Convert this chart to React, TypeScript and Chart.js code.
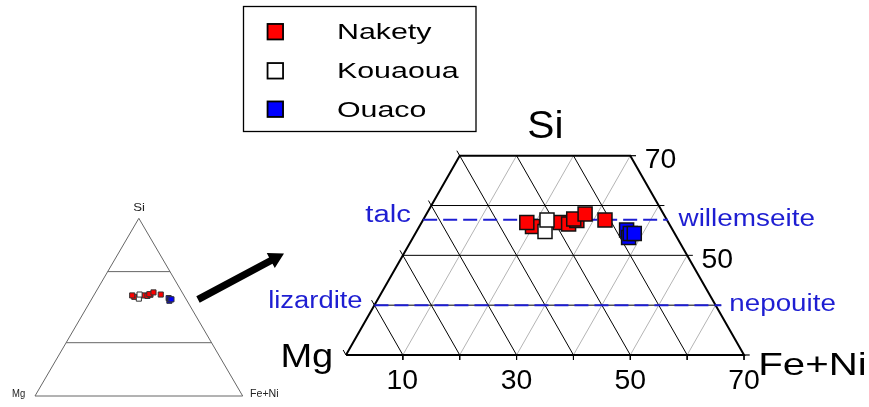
import React, { useEffect, useRef } from "react";
import { Chart, registerables } from "chart.js";

Chart.register(...registerables);

// ---------------- data (ternary %, Mg = 100 - Si - FeNi) ----------------
const seriesNames = ["Nakety", "Kouaoua", "Ouaco"];
const nakety_Si = [55.8, 56.6, 56.6, 56.3, 57.0, 57.3, 58.3, 57.1];
const nakety_FeNi = [19.9, 18.5, 24.4, 26.0, 27.1, 26.4, 27.9, 32.0];
const kouaoua_Si = [54.8, 57.1];
const kouaoua_FeNi = [22.6, 21.8];
const ouaco_Si = [55.1, 53.6, 54.4, 54.4];
const ouaco_FeNi = [36.8, 37.9, 37.8, 38.5];
const seriesColors = ["#ff0000", "#ffffff", "#0000ff"];

const axisLabels = ["Si", "Mg", "Fe+Ni"];
const bottomTicks = [10, 30, 50, 70]; // Fe+Ni along the Si = 30 base
const rightTicks = [50, 70]; // Si
const siRange = [30, 70]; // zoomed window
const gridSteps = [10, 20, 30, 40, 50, 60];
const siGrid = [40, 50, 60];
const mineralsLeft = ["talc", "lizardite"];
const mineralsRight = ["willemseite", "nepouite"];
const mineralSi = [400 / 7, 40];
const overviewSiLines = [30, 70];

// ternary (Si, FeNi) -> cartesian
const tp = (si: number, fe: number) => ({ x: fe + si / 2, y: si });

const FONT = '"Liberation Sans", Arial, sans-serif';
const BLUE = "#1e1ed2";

function seg(points: any[], color: string, width: number, order: number, dash: number[] = [], mini = false) {
  return {
    label: "",
    data: points,
    showLine: true,
    pointRadius: 0,
    pointHoverRadius: 0,
    borderColor: color,
    backgroundColor: color,
    borderWidth: width,
    borderDash: dash,
    fill: false,
    order,
    clip: false,
    xAxisID: mini ? "x2" : "x",
    yAxisID: mini ? "y2" : "y",
  };
}

function buildDatasets() {
  const ds: any[] = [];
  const [s0, s1] = siRange;
  const feMax = 100 - s0;
  // outline of zoom window
  ds.push(seg([tp(s0, 0), tp(s0, feMax), tp(s1, 100 - s1), tp(s1, 0), tp(s0, 0)], "#000", 2, 10));
  // horizontal Si lines with right ticks
  siGrid.forEach((s) => ds.push(seg([tp(s, 0), tp(s, 100 - s + 1)], "#000", 1, 11)));
  [s0, s1].forEach((s) => ds.push(seg([tp(s, 100 - s), tp(s, 100 - s + 1)], "#000", 1.2, 11)));
  // Mg-constant lines (black)
  gridSteps.forEach((m) => {
    const start = m >= 100 - s1 ? tp(100 - m, 0) : tp(s1, 100 - s1 - m);
    ds.push(seg([start, tp(s0, feMax - m)], "#000", 1, 11));
  });
  // left ticks (Mg lines extended outward)
  [30, 40, 50, 60, 70].forEach((m) => ds.push(seg([tp(100 - m, 0), tp(100 - m + 1, -1)], "#000", 1, 11)));
  // FeNi-constant lines (grey)
  gridSteps.forEach((f) => {
    const end = f <= 100 - s1 ? tp(s1, f) : tp(100 - f, f);
    ds.push(seg([tp(s0, f), end], "#b4b4b4", 1, 12));
  });
  // bottom ticks
  [...gridSteps, 70].forEach((f) => {
    const p = tp(s0, f);
    ds.push(seg([p, { x: p.x, y: p.y - 1 }], "#000", 1, 11));
  });
  // mineral reference lines (dashed blue)
  ds.push(seg([tp(mineralSi[0], 0), tp(mineralSi[0], 100 - mineralSi[0] + 0.2)], BLUE, 2, 5, [14, 6]));
  ds.push(seg([tp(mineralSi[1], 0), tp(mineralSi[1], 100 - mineralSi[1] + 1)], BLUE, 2, 5, [14, 6]));

  // overview triangle
  ds.push(seg([tp(0, 0), tp(0, 100), tp(100, 0), tp(0, 0)], "#666", 1, 10, [], true));
  overviewSiLines.forEach((s) => ds.push(seg([tp(s, 0), tp(s, 100 - s)], "#666", 1, 10, [], true)));

  const series = [
    { name: seriesNames[0], si: nakety_Si, fe: nakety_FeNi, color: seriesColors[0], order: 3 },
    { name: seriesNames[1], si: kouaoua_Si, fe: kouaoua_FeNi, color: seriesColors[1], order: 2 },
    { name: seriesNames[2], si: ouaco_Si, fe: ouaco_FeNi, color: seriesColors[2], order: 1 },
  ];
  series.forEach((s) => {
    const pts = s.si.map((v, i) => tp(v, s.fe[i]));
    ds.push({
      label: s.name,
      data: pts,
      showLine: false,
      pointStyle: "rect",
      pointRadius: 9.9,
      pointHoverRadius: 9.9,
      backgroundColor: s.color,
      borderColor: "#111",
      borderWidth: 1.5,
      order: s.order,
      clip: false,
      xAxisID: "x",
      yAxisID: "y",
    });
    ds.push({
      label: s.name + " (overview)",
      data: pts,
      showLine: false,
      pointStyle: "rect",
      pointRadius: 3.6,
      pointHoverRadius: 3.6,
      backgroundColor: s.color,
      borderColor: "#333",
      borderWidth: 1,
      order: s.order,
      clip: false,
      xAxisID: "x2",
      yAxisID: "y2",
    });
  });
  return ds;
}

function drawText(
  ctx: CanvasRenderingContext2D,
  text: string,
  ax: number,
  base: number,
  size: number,
  color: string,
  opts: { width?: number; k?: number; align?: "left" | "right" | "center" } = {}
) {
  ctx.save();
  ctx.font = `${size}px ${FONT}`;
  ctx.fillStyle = color;
  ctx.textAlign = "left";
  ctx.textBaseline = "alphabetic";
  const m = ctx.measureText(text);
  const ink = m.actualBoundingBoxLeft + m.actualBoundingBoxRight;
  const k = opts.width ? opts.width / ink : opts.k ?? 1;
  const w = ink * k;
  const align = opts.align ?? "left";
  const left = align === "left" ? ax : align === "right" ? ax - w : ax - w / 2;
  ctx.translate(left, base);
  ctx.scale(k, 1);
  ctx.fillText(text, m.actualBoundingBoxLeft, 0);
  ctx.restore();
}

const overlay = {
  id: "overlay",
  afterDatasetsDraw(chart: any) {
    const ctx: CanvasRenderingContext2D = chart.ctx;
    const X = chart.scales.x;
    const Y = chart.scales.y;
    const X2 = chart.scales.x2;
    const Y2 = chart.scales.y2;
    const P = (si: number, fe: number) => {
      const p = tp(si, fe);
      return [X.getPixelForValue(p.x), Y.getPixelForValue(p.y)];
    };
    const P2 = (si: number, fe: number) => {
      const p = tp(si, fe);
      return [X2.getPixelForValue(p.x), Y2.getPixelForValue(p.y)];
    };
    const [s0, s1] = siRange;

    // big axis labels
    const [tlx] = P(s1, 0);
    const [trx, ty] = P(s1, 100 - s1);
    drawText(ctx, axisLabels[0], (tlx + trx) / 2, ty - 18, 39, "#000", { width: 33.4, align: "center" });
    const [blx, by] = P(s0, 0);
    drawText(ctx, axisLabels[1], blx - 14.3, by + 12.3, 33, "#000", { width: 49, align: "right" });
    const [brx] = P(s0, 100 - s0);
    drawText(ctx, axisLabels[2], brx + 16.7, by + 20, 32, "#000", { width: 103.3 });

    // bottom tick labels
    bottomTicks.forEach((f) => {
      const [px] = P(s0, f);
      drawText(ctx, String(f), px, by + 34.3, 27, "#000", { k: 1.05, align: "center" });
    });
    // right tick labels
    rightTicks.forEach((s) => {
      const [px, py] = P(s, 100 - s + 1);
      drawText(ctx, String(s), px + 9.7, py + 12.5, 27, "#000", { k: 1.05 });
    });

    // mineral labels
    const leftW = [45, 92.3];
    const rightW = [136.7, 104.3];
    const rightExt = [0.2, 1];
    mineralSi.forEach((s, i) => {
      const [lx, ly] = P(s, 0);
      drawText(ctx, mineralsLeft[i], lx - 12.8, ly + 2.5, 23, BLUE, { width: leftW[i], align: "right" });
      const [rx] = P(s, 100 - s + rightExt[i]);
      drawText(ctx, mineralsRight[i], rx + 9.3, ly + 6.3, 23, BLUE, { width: rightW[i] });
    });

    // overview labels
    const [ax, ay] = P2(100, 0);
    drawText(ctx, axisLabels[0], ax, ay - 7.6, 10.5, "#222", { width: 11.3, align: "center" });
    const [olx, oly] = P2(0, 0);
    drawText(ctx, axisLabels[1], olx - 9.6, oly + 0.7, 10.5, "#222", { width: 13.3, align: "right" });
    const [orx] = P2(0, 100);
    drawText(ctx, axisLabels[2], orx + 7.3, oly + 0.7, 10.5, "#222", { width: 28.3 });

    // arrow from overview to zoom
    ctx.save();
    const tx = 198, tyy = 299.5, hx = 284, hy = 253.5;
    const dx = hx - tx, dy = hy - tyy;
    const L = Math.hypot(dx, dy);
    const ux = dx / L, uy = dy / L;
    const nx = -uy, ny = ux;
    const sw = 3.6, hw = 8.5, hl = 15;
    const bx = hx - ux * hl, byy = hy - uy * hl;
    ctx.beginPath();
    ctx.moveTo(tx + nx * sw, tyy + ny * sw);
    ctx.lineTo(bx + nx * sw, byy + ny * sw);
    ctx.lineTo(bx + nx * hw, byy + ny * hw);
    ctx.lineTo(hx, hy);
    ctx.lineTo(bx - nx * hw, byy - ny * hw);
    ctx.lineTo(bx - nx * sw, byy - ny * sw);
    ctx.lineTo(tx - nx * sw, tyy - ny * sw);
    ctx.closePath();
    ctx.fillStyle = "#000";
    ctx.fill();
    ctx.restore();

    // legend box
    ctx.save();
    ctx.strokeStyle = "#000";
    ctx.lineWidth = 1.3;
    ctx.strokeRect(243.5, 6.5, 232.5, 125);
    const rows = [31.7, 70.8, 109.2];
    seriesNames.forEach((name, i) => {
      const side = 15.5;
      ctx.fillStyle = seriesColors[i];
      ctx.fillRect(275.3 - side / 2, rows[i] - side / 2, side, side);
      ctx.lineWidth = 1.8;
      ctx.strokeStyle = "#000";
      ctx.strokeRect(275.3 - side / 2, rows[i] - side / 2, side, side);
      drawText(ctx, name, 338.3, rows[i] + 7.4, 22.5, "#000", { k: 1.35 });
    });
    ctx.restore();
  },
};

export default function App() {
  const ref = useRef<HTMLCanvasElement>(null);
  useEffect(() => {
    const canvas = ref.current!;
    const chart = new Chart(canvas, {
      type: "scatter",
      data: { datasets: buildDatasets() },
      options: {
        responsive: false,
        animation: false,
        events: [],
        layout: { padding: 0, autoPadding: false },
        plugins: { legend: { display: false }, tooltip: { enabled: false } },
        scales: {
          x: { type: "linear", display: false, min: -45.85, max: 106.98 },
          y: { type: "linear", display: false, min: 19.56, max: 101.25 },
          x2: { type: "linear", display: false, min: -16.85, max: 401.54, position: "bottom" },
          y2: { type: "linear", display: false, min: -6.19, max: 222.85, position: "left" },
        },
      },
      plugins: [overlay],
    } as any);
    return () => chart.destroy();
  }, []);
  return (
    <div style={{ position: "fixed", left: 0, top: 0, width: 869, height: 407, background: "#fff" }}>
      <canvas ref={ref} width={869} height={407} style={{ display: "block" }} />
    </div>
  );
}
